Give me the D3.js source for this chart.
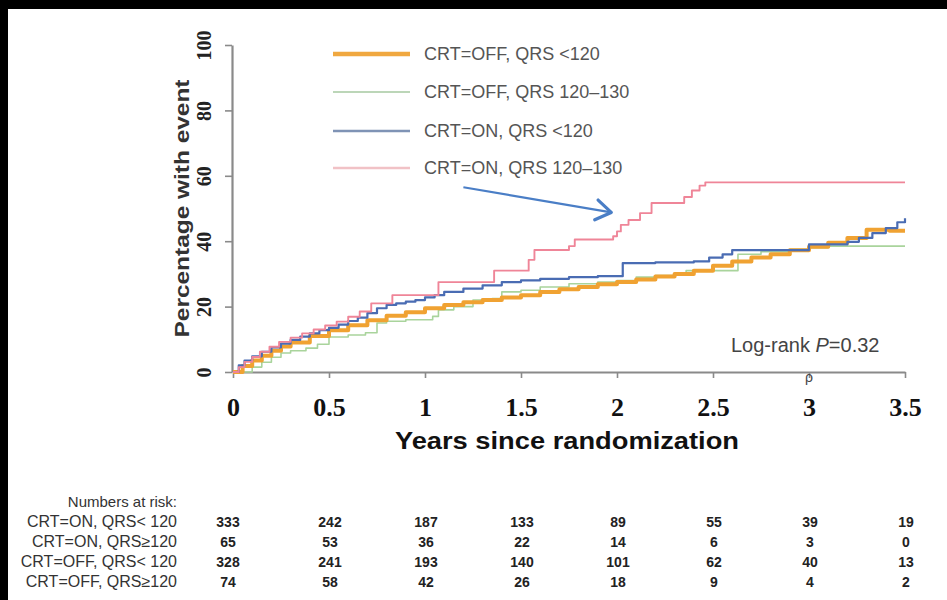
<!DOCTYPE html>
<html>
<head>
<meta charset="utf-8">
<script src="https://cdn.jsdelivr.net/npm/d3@7"></script>
<style>
  html, body { margin: 0; padding: 0; background: #fff; }
  svg { display: block; }
</style>
</head>
<body>
<svg id="chart" width="947" height="600"></svg>
<script>
// ---------------- DATA ----------------
const xTicks = [0, 0.5, 1, 1.5, 2, 2.5, 3, 3.5];
const xTickLabels = ["0", "0.5", "1", "1.5", "2", "2.5", "3", "3.5"];
const yTicks = [0, 20, 40, 60, 80, 100];
const yTickLabels = ["0", "20", "40", "60", "80", "100"];

const seriesNames = ["CRT=OFF, QRS <120", "CRT=OFF, QRS 120\u2013130", "CRT=ON, QRS <120", "CRT=ON, QRS 120\u2013130"];

// CRT=OFF, QRS <120 (orange)
const offLowT = [0, 0.05, 0.1, 0.15, 0.2, 0.25, 0.3, 0.4, 0.5, 0.6, 0.7, 0.8, 0.9, 1.0, 1.1, 1.2, 1.3, 1.4, 1.5, 1.6, 1.7, 1.8, 1.9, 2.0, 2.1, 2.2, 2.3, 2.4, 2.5, 2.6, 2.7, 2.8, 2.9, 3.0, 3.1, 3.2, 3.3, 3.42, 3.5];
const offLowV = [0, 1.8, 3.5, 5, 6.5, 7.8, 9, 11, 12.8, 14.3, 15.8, 17.2, 18.3, 19.5, 20.5, 21.3, 22, 22.8, 23.5, 24.5, 25.3, 26, 26.8, 27.5, 28.3, 29.2, 30, 31, 32.5, 33.8, 35, 36, 37.2, 38.3, 39.5, 41, 43.5, 43.2, 43.2];

// CRT=OFF, QRS 120-130 (green)
const offMidT = [0, 0.06, 0.1, 0.15, 0.2, 0.25, 0.3, 0.38, 0.44, 0.5, 0.6, 0.69, 0.75, 0.8, 0.9, 1.04, 1.07, 1.15, 1.25, 1.35, 1.4, 1.5, 1.6, 1.75, 1.9, 2.0, 2.1, 2.2, 2.3, 2.36, 2.63, 2.75, 2.9, 3.0, 3.1, 3.5];
const offMidV = [0, 0, 1.5, 3, 4.5, 5.8, 6.5, 7.3, 8.5, 10.7, 11.3, 12, 15, 15.5, 16, 17, 19, 20, 22, 22.5, 24.5, 25, 26, 27, 27.5, 28, 29, 29.5, 30, 31, 36, 36.8, 37.5, 38, 38.5, 38.5];

// CRT=ON, QRS <120 (blue)
const onLowT = [0, 0.03, 0.06, 0.1, 0.15, 0.2, 0.25, 0.3, 0.35, 0.4, 0.45, 0.5, 0.55, 0.6, 0.65, 0.7, 0.75, 0.8, 0.85, 0.9, 0.95, 1.0, 1.05, 1.1, 1.2, 1.3, 1.4, 1.5, 1.6, 1.75, 1.9, 2.03, 2.2, 2.4, 2.48, 2.55, 2.6, 2.94, 3.0, 3.2, 3.26, 3.33, 3.4, 3.46, 3.5];
const onLowV = [0, 2, 3.5, 4.8, 6.2, 7.5, 8.7, 9.8, 10.8, 11.8, 12.8, 13.5, 14.5, 15.6, 16.6, 18, 19.5, 20.5, 21, 21.5, 22, 22.8, 23.5, 24.5, 25.5, 26.5, 27.5, 28, 28.5, 29, 29.3, 33.3, 33.5, 33.8, 35, 36, 37.3, 37.3, 39, 39.8, 41, 42.5, 44, 45.8, 47];

// CRT=ON, QRS 120-130 (pink)
const onMidT = [0, 0.03, 0.06, 0.1, 0.14, 0.19, 0.24, 0.3, 0.36, 0.42, 0.48, 0.54, 0.6, 0.66, 0.72, 0.83, 1.07, 1.36, 1.54, 1.57, 1.75, 1.78, 1.98, 2.0, 2.02, 2.06, 2.12, 2.18, 2.35, 2.39, 2.43, 2.46, 3.5];
const onMidV = [0, 1.5, 3.1, 4.6, 6.2, 7.7, 9.2, 10.5, 11.8, 13, 14.2, 15.4, 16.9, 18.5, 21, 23.5, 27.5, 31, 34.3, 37.3, 38.5, 40.5, 41.5, 43, 45, 46.5, 48.6, 51.7, 53.5, 55.5, 57, 58, 58];

const riskTitle = "Numbers at risk:";
const riskLabels = ["CRT=ON, QRS< 120", "CRT=ON, QRS\u2265120", "CRT=OFF, QRS< 120", "CRT=OFF, QRS\u2265120"];
const riskOnLow  = [333, 242, 187, 133, 89, 55, 39, 19];
const riskOnMid  = [65, 53, 36, 22, 14, 6, 3, 0];
const riskOffLow = [328, 241, 193, 140, 101, 62, 40, 13];
const riskOffMid = [74, 58, 42, 26, 18, 9, 4, 2];

const pText = "Log-rank ";
const pItalic = "P";
const pValue = "=0.32";

// annotation arrow, in data units [years, percent]
const arrowFrom = [1.2, 56.5];
const arrowTo = [1.97, 48.8];

// ---------------- DRAW ----------------
const svg = d3.select("#chart");
svg.append("rect").attr("width", 947).attr("height", 600).attr("fill", "#fff");

const x = d3.scaleLinear().domain([0, 3.5]).range([233, 905]);
const y = d3.scaleLinear().domain([0, 100]).range([372, 45]);

const colors = ["#f0a232", "#a9d49c", "#4a6cb3", "#ef8598"];
const widths = [4, 1.6, 2.2, 1.9];

// axes
const axisColor = "#8a8a8a";
const yAxis = svg.append("g").attr("transform", `translate(${x(0) - 1},0)`)
  .call(d3.axisLeft(y).tickValues(yTicks).tickFormat((d, i) => yTickLabels[i]).tickSize(7).tickSizeOuter(0));
yAxis.select(".domain").attr("stroke", axisColor).attr("stroke-width", 2.2);
yAxis.selectAll(".tick line").attr("stroke", axisColor).attr("stroke-width", 1.6);
yAxis.selectAll(".tick text")
  .attr("transform", "rotate(-90)")
  .attr("x", 0).attr("y", -21).attr("dy", 0)
  .attr("text-anchor", "middle")
  .attr("fill", "#222")
  .style("font-family", "'Liberation Serif', 'DejaVu Serif', serif")
  .style("font-weight", "bold")
  .style("font-size", "20px");

const xAxis = svg.append("g").attr("transform", `translate(0,${y(0)})`)
  .call(d3.axisBottom(x).tickValues(xTicks).tickFormat((d, i) => xTickLabels[i]).tickSize(6).tickSizeOuter(0));
xAxis.select(".domain").attr("stroke", axisColor).attr("stroke-width", 2.2);
xAxis.selectAll(".tick line").attr("stroke", axisColor).attr("stroke-width", 1.6);
xAxis.selectAll(".tick text")
  .attr("y", 44).attr("dy", 0)
  .attr("fill", "#111")
  .style("font-family", "'Liberation Serif', 'DejaVu Serif', serif")
  .style("font-weight", "bold")
  .style("font-size", "26px");

// axis titles
svg.append("text")
  .attr("transform", `translate(189,${(y(0) + y(100)) / 2 + 0}) rotate(-90)`)
  .attr("text-anchor", "middle")
  .attr("fill", "#333")
  .attr("textLength", 258).attr("lengthAdjust", "spacingAndGlyphs")
  .style("font-family", "'Liberation Sans', Arial, sans-serif")
  .style("font-weight", "bold").style("font-size", "20px")
  .text("Percentage with event");

svg.append("text")
  .attr("x", 567).attr("y", 449)
  .attr("text-anchor", "middle")
  .attr("fill", "#111")
  .attr("textLength", 344).attr("lengthAdjust", "spacingAndGlyphs")
  .style("font-family", "'Liberation Sans', Arial, sans-serif")
  .style("font-weight", "bold").style("font-size", "23px")
  .text("Years since randomization");

// curves
const seriesT = [offLowT, offMidT, onLowT, onMidT];
const seriesV = [offLowV, offMidV, onLowV, onMidV];
const line = d3.line().x(d => x(d[0])).y(d => y(d[1])).curve(d3.curveStepAfter);
const drawOrder = [1, 0, 2, 3];
drawOrder.forEach(i => {
  const pts = seriesT[i].map((t, k) => [t, seriesV[i][k]]);
  svg.append("path").datum(pts)
    .attr("d", line)
    .attr("fill", "none")
    .attr("stroke", colors[i])
    .attr("stroke-width", widths[i])
    .attr("stroke-linejoin", "round");
});

// legend
const legY = [54, 92, 131, 168];
const legendLineColors = ["#f0a840", "#bcd6b8", "#7f93b5", "#f1c2c6"];
const legendWidths = [4.5, 2.2, 2.4, 2.4];
seriesNames.forEach((name, i) => {
  svg.append("line")
    .attr("x1", 333).attr("x2", 410)
    .attr("y1", legY[i]).attr("y2", legY[i])
    .attr("stroke", legendLineColors[i]).attr("stroke-width", legendWidths[i]);
  svg.append("text")
    .attr("x", 424).attr("y", legY[i] + 6)
    .attr("fill", "#555")
    .style("font-family", "'Liberation Sans', Arial, sans-serif")
    .style("font-size", "18px")
    .text(name);
});

// arrow annotation
svg.append("defs").append("marker")
  .attr("id", "arrowhead")
  .attr("markerUnits", "userSpaceOnUse")
  .attr("viewBox", "-2 -12 20 24")
  .attr("markerWidth", 20).attr("markerHeight", 24)
  .attr("refX", 15).attr("refY", 0)
  .attr("orient", "auto")
  .append("path")
  .attr("d", "M0,-10 L15,0 L0,10")
  .attr("fill", "none")
  .attr("stroke", "#4a7ec6")
  .attr("stroke-width", 3.2)
  .attr("stroke-linecap", "round")
  .attr("stroke-linejoin", "round");

svg.append("line")
  .attr("x1", x(arrowFrom[0])).attr("y1", y(arrowFrom[1]))
  .attr("x2", x(arrowTo[0])).attr("y2", y(arrowTo[1]))
  .attr("stroke", "#4a7ec6").attr("stroke-width", 2.2)
  .attr("marker-end", "url(#arrowhead)");

// p-value
const pt = svg.append("text")
  .attr("x", 731).attr("y", 352)
  .attr("fill", "#444")
  .style("font-family", "'Liberation Sans', Arial, sans-serif")
  .style("font-size", "20px");
pt.append("tspan").text(pText);
pt.append("tspan").style("font-style", "italic").text(pItalic);
pt.append("tspan").text(pValue);

// small mark near 3 on axis
svg.append("text")
  .attr("x", x(3) - 4).attr("y", y(0) + 10)
  .attr("fill", "#444")
  .style("font-family", "'Liberation Sans', Arial, sans-serif")
  .style("font-size", "14px")
  .text("\u03C1");

// numbers at risk table
const tableFont = "'Liberation Sans', Arial, sans-serif";
svg.append("text")
  .attr("x", 177).attr("y", 507)
  .attr("text-anchor", "end")
  .attr("fill", "#333")
  .style("font-family", tableFont).style("font-size", "15px")
  .text(riskTitle);

const riskRows = [riskOnLow, riskOnMid, riskOffLow, riskOffMid];
const rowY = [527, 547, 567, 587];
riskRows.forEach((row, r) => {
  svg.append("text")
    .attr("x", 177).attr("y", rowY[r])
    .attr("text-anchor", "end")
    .attr("fill", "#333")
    .style("font-family", tableFont).style("font-size", "16px")
    .text(riskLabels[r]);
  row.forEach((n, c) => {
    svg.append("text")
      .attr("x", c === 0 ? x(xTicks[c]) - 5 : x(xTicks[c]) + 1).attr("y", rowY[r])
      .attr("text-anchor", "middle")
      .attr("fill", "#222")
      .style("font-family", tableFont).style("font-size", "14px")
      .style("font-weight", "bold")
      .text(n);
  });
});

// black frame edges (top and left)
svg.append("rect").attr("x", 0).attr("y", 0).attr("width", 947).attr("height", 9).attr("fill", "#000");
svg.append("rect").attr("x", 0).attr("y", 0).attr("width", 8).attr("height", 600).attr("fill", "#000");
</script>
</body>
</html>
